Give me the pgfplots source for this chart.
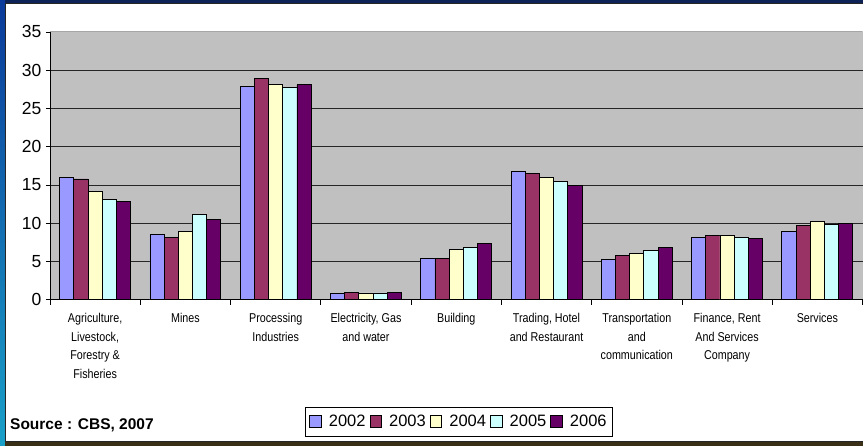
\documentclass[border=0pt]{standalone}
\usepackage{fontspec}
\setmainfont{Liberation Sans}
\newfontfamily\catfont[FakeStretch=0.84]{Liberation Sans}
\usepackage{pgfplots}
\usepackage{pgfplotstable}
\pgfplotsset{compat=1.18}
\definecolor{cA}{HTML}{9999FF}
\definecolor{cB}{HTML}{993366}
\definecolor{cC}{HTML}{FFFFCC}
\definecolor{cD}{HTML}{CCFFFF}
\definecolor{cE}{HTML}{660066}
\definecolor{bggray}{HTML}{C0C0C0}
\definecolor{navy}{HTML}{0D2358}
\definecolor{lblue}{HTML}{0B3A9A}
\definecolor{lteal}{HTML}{1AA0C8}
\definecolor{dbrown}{HTML}{3A3018}
\pgfplotstableread{
x y2002 y2003 y2004 y2005 y2006
0 16.0 15.8 14.2 13.1 12.9
1 8.5 8.2 8.9 11.1 10.5
2 27.9 28.9 28.1 27.8 28.1
3 0.8 1.0 0.9 0.9 1.0
4 5.4 5.4 6.6 6.9 7.4
5 16.8 16.5 16.0 15.5 14.9
6 5.3 5.8 6.1 6.4 6.9
7 8.2 8.4 8.4 8.2 8.0
8 8.9 9.7 10.3 9.8 10.0
}\datatable
\begin{document}
\begin{tikzpicture}[x=1pt,y=1pt]
\fill[white] (0,0) rectangle (863,446);
\begin{axis}[
  at={(50pt,146pt)}, anchor=south west, scale only axis,
  width=813pt, height=268pt,
  xmin=-0.5, xmax=8.5, ymin=0, ymax=35,
  ybar=0pt, bar width=14.2pt,
  axis background/.style={fill=bggray},
  axis x line*=bottom, axis y line*=left,
  axis line style={black, line width=0.9pt},
  tick align=outside,
  ytick={0,5,...,30},
  extra y ticks={35},
  extra y tick style={grid=none},
  ymajorgrids, major grid style={black!85, line width=0.8pt},
  major tick length=4pt, minor tick length=5pt,
  tick style={black, line width=0.8pt},
  xtick={0,...,8},
  major x tick style={draw=none},
  minor xtick={-0.5,0.5,...,8.5},
  /pgf/number format/assume math mode=true,
  yticklabel style={font=\fontsize{17.5}{17.5}\selectfont, xshift=-1pt},
  xticklabels={{Agriculture,\\Livestock,\\Forestry \&\\Fisheries},{Mines},{Processing\\Industries},{Electricity, Gas\\and water},{Building},{Trading, Hotel\\and Restaurant},{Transportation\\and\\communication},{Finance, Rent\\And Services\\Company},{Services}},
  xticklabel style={align=center, font=\catfont\fontsize{12.8}{18.5}\selectfont, anchor=north, yshift=-6pt},
  legend style={at={(axis description cs:0.3137,-0.511)}, anchor=south west, draw=black, line width=0.8pt,
    font=\fontsize{16.5}{16.5}\selectfont, inner xsep=4pt, inner ysep=6pt,
    /tikz/every even column/.append style={column sep=2pt},
    /tikz/every odd column/.append style={column sep=5.5pt}},
  legend columns=5,
  legend image code/.code={\draw[#1,draw=black,line width=0.6pt] (0pt,-5.5pt) rectangle (11.5pt,6pt);},
  every axis plot/.append style={draw=black, line width=0.8pt},
]
\addplot[fill=cA] table[x=x,y=y2002]{\datatable};
\addplot[fill=cB] table[x=x,y=y2003]{\datatable};
\addplot[fill=cC] table[x=x,y=y2004]{\datatable};
\addplot[fill=cD] table[x=x,y=y2005]{\datatable};
\addplot[fill=cE] table[x=x,y=y2006]{\datatable};
\legend{2002,2003,2004,2005,2006}
\draw[black!35, line width=1pt] (rel axis cs:0,1) -- (rel axis cs:1,1);
\end{axis}
\node[anchor=base west, font=\bfseries\fontsize{15.5}{15.5}\selectfont, inner sep=0pt] at (10,16) {Source : CBS, 2007};
% frame
\draw[black!85, line width=1pt] (5.5,4.5) -- (5.5,442.5) -- (863,442.5);
\draw[black!85, line width=1pt] (5.5,4.5) -- (863,4.5);
\fill[navy] (0,443) rectangle (863,446);
\shade[top color=lblue, bottom color=lteal] (0,0) rectangle (5,446);
\fill[dbrown] (5,0) rectangle (863,4);
\end{tikzpicture}
\end{document}
